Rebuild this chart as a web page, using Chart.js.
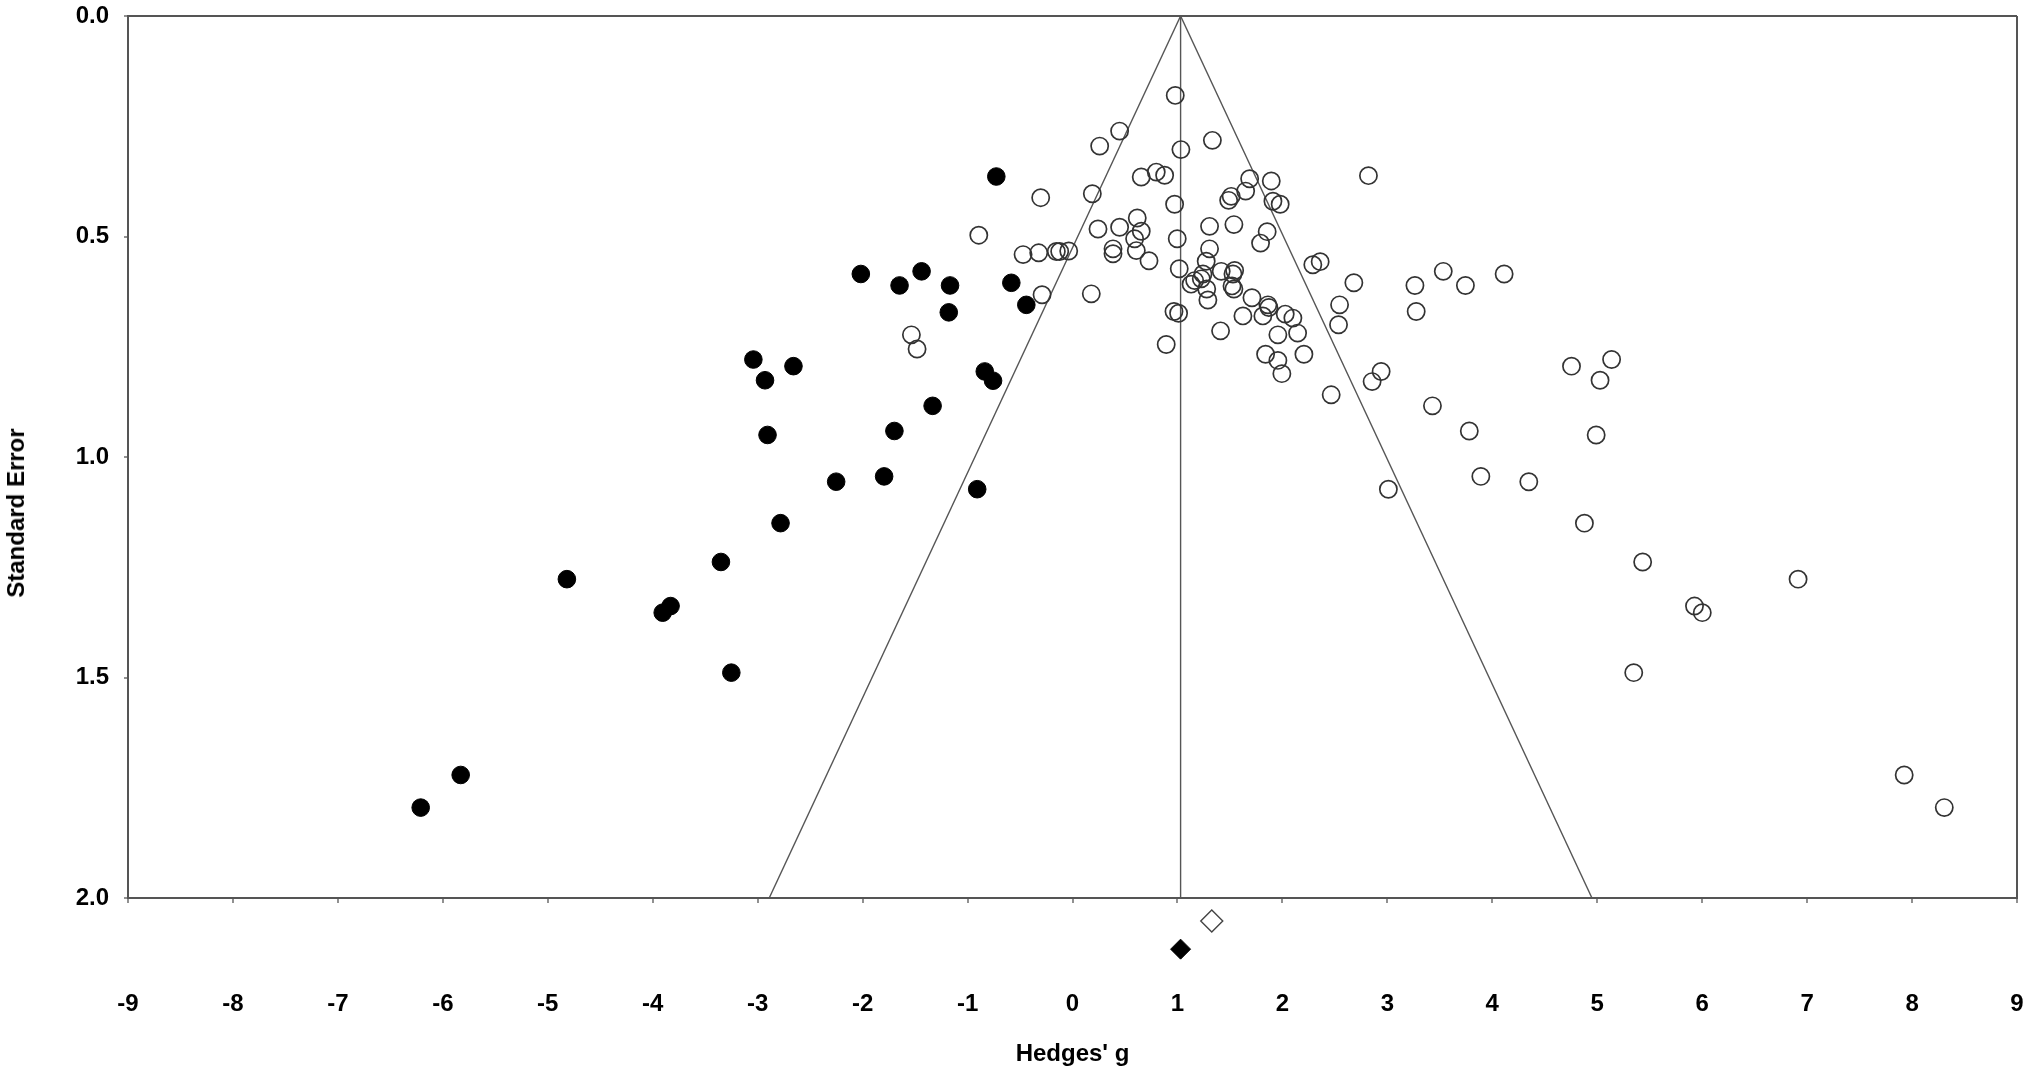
<!DOCTYPE html>
<html>
<head>
<meta charset="utf-8">
<script src="https://cdn.jsdelivr.net/npm/chart.js@4.4.1/dist/chart.umd.min.js"></script>
<style>
  html, body { margin: 0; padding: 0; background: #fff; overflow: hidden; }
  .wrap { position: relative; width: 2031px; height: 1073px; }
  .y-title {
    position: absolute;
    left: 16px;
    top: 513px;
    transform: translate(-50%, -50%) rotate(-90deg);
    font: bold 24px "Liberation Sans", Arial, sans-serif;
    color: #000;
    white-space: nowrap;
  }
</style>
</head>
<body>
<div class="wrap">
  <canvas id="funnel"></canvas>
  <div class="y-title">Standard Error</div>
</div>
<script>
// observed studies (open circles)
const observedG = [
  0.979, 0.449, 0.259, 1.333, 1.033, 0.655, 0.798, 0.878, -0.303, 0.189,
  0.973, -0.893, 0.243, 0.449, 0.617, 0.655, 0.592, 0.608, 0.729, 0.386,
  0.386, 0.998, -0.471, -0.322, -0.154, -0.122, -0.036, 1.017, 1.130, 1.164,
  1.243, 1.227, -0.290, 0.179, 0.967, 1.011, 0.893, -1.535, -1.481, 1.688,
  1.894, 1.650, 1.512, 1.488, 1.910, 1.979, 1.306, 1.538, 1.855, 1.792,
  1.306, 1.274, 2.290, 2.360, 1.417, 1.545, 1.529, 2.681, 1.279, 1.290,
  1.538, 1.520, 1.710, 1.862, 1.871, 2.027, 2.100, 1.624, 1.814, 2.545,
  2.535, 1.411, 1.957, 2.145, 2.820, 1.840, 2.205, 1.957, 1.995, 2.465,
  2.855, 2.941, 3.430, 3.010, 3.263, 3.275, 3.533, 3.744, 4.113, 4.755,
  5.137, 5.027, 3.781, 4.990, 3.891, 4.348, 4.878, 5.433, 6.914, 5.927,
  6.001, 5.348, 7.925, 8.307
];
const observedSE = [
  0.180, 0.261, 0.295, 0.282, 0.303, 0.365, 0.354, 0.361, 0.412, 0.403,
  0.427, 0.497, 0.483, 0.479, 0.458, 0.488, 0.505, 0.532, 0.555, 0.528,
  0.539, 0.505, 0.541, 0.537, 0.534, 0.534, 0.533, 0.573, 0.608, 0.600,
  0.585, 0.596, 0.632, 0.630, 0.670, 0.674, 0.745, 0.723, 0.755, 0.369,
  0.374, 0.397, 0.409, 0.418, 0.420, 0.427, 0.477, 0.473, 0.489, 0.515,
  0.528, 0.556, 0.564, 0.557, 0.579, 0.577, 0.585, 0.605, 0.619, 0.644,
  0.619, 0.612, 0.639, 0.655, 0.661, 0.676, 0.685, 0.680, 0.680, 0.655,
  0.700, 0.714, 0.723, 0.719, 0.362, 0.767, 0.767, 0.781, 0.811, 0.859,
  0.829, 0.806, 0.884, 1.073, 0.611, 0.670, 0.579, 0.611, 0.585, 0.794,
  0.779, 0.826, 0.941, 0.950, 1.044, 1.056, 1.150, 1.238, 1.277, 1.338,
  1.353, 1.489, 1.721, 1.795
];

// imputed studies (filled circles)
const imputedG = [
  -0.726, -2.017, -1.648, -1.438, -1.167, -1.179, -0.583, -0.440, -3.041, -2.930,
  -2.659, -0.836, -0.757, -1.333, -1.697, -2.906, -2.252, -1.795, -0.908, -2.782,
  -4.818, -3.350, -3.830, -3.905, -3.251, -5.830, -6.211
];
const imputedSE = [
  0.364, 0.585, 0.611, 0.579, 0.611, 0.672, 0.605, 0.655, 0.779, 0.826,
  0.794, 0.806, 0.827, 0.884, 0.941, 0.950, 1.056, 1.044, 1.073, 1.150,
  1.277, 1.238, 1.338, 1.353, 1.489, 1.721, 1.795
];

// summary diamonds (drawn under the axis): observed and adjusted estimate
const observedMean = [{ x: 1.327, y: 2.052 }];
const adjustedMean = [{ x: 1.03, y: 2.116 }];

// funnel (pooled estimate and 95% limits)
const funnelCentre = [{ x: 1.03, y: 0 }, { x: 1.03, y: 2 }];
const funnelLeft = [{ x: 1.03, y: 0 }, { x: -2.89, y: 2 }];
const funnelRight = [{ x: 1.03, y: 0 }, { x: 4.95, y: 2 }];

const xTicks = [-9, -8, -7, -6, -5, -4, -3, -2, -1, 0, 1, 2, 3, 4, 5, 6, 7, 8, 9];
const yTicks = [0, 0.5, 1, 1.5, 2];

const toPoints = (xs, ys) => xs.map((x, i) => ({ x, y: ys[i] }));

const LINE = '#555';
const NONE = 'rgba(0,0,0,0)';
const FONT = { family: '"Liberation Sans", Arial, sans-serif', size: 24, weight: 'bold' };

const lineSet = data => ({
  type: 'line',
  data,
  borderColor: LINE,
  borderWidth: 1.4,
  pointRadius: 0,
  fill: false,
  tension: 0,
});

// the summary diamonds sit below the plot frame, outside the chart area;
// chart.js skips points outside the area, so draw those elements here
const outsidePoints = {
  id: 'outsidePoints',
  afterDatasetsDraw(chart) {
    const area = { left: 0, top: 0, right: chart.width, bottom: chart.height };
    chart.data.datasets.forEach((ds, i) => {
      if (!ds.belowFrame) return;
      chart.getDatasetMeta(i).data.forEach(el => el.draw(chart.ctx, area));
    });
  },
};

const chart = new Chart(document.getElementById('funnel'), {
  type: 'scatter',
  data: {
    datasets: [
      {
        data: toPoints(imputedG, imputedSE),
        pointStyle: 'circle',
        pointRadius: 8.8,
        backgroundColor: '#000',
        borderColor: '#000',
        borderWidth: 1,
      },
      {
        data: toPoints(observedG, observedSE),
        pointStyle: 'circle',
        pointRadius: 8.6,
        backgroundColor: NONE,
        borderColor: '#333',
        borderWidth: 1.7,
      },
      {
        data: adjustedMean,
        belowFrame: true,
        pointStyle: 'rectRot',
        pointRadius: 10,
        backgroundColor: '#000',
        borderColor: '#000',
        borderWidth: 1,
        clip: false,
      },
      {
        data: observedMean,
        belowFrame: true,
        pointStyle: 'rectRot',
        pointRadius: 11,
        backgroundColor: '#fff',
        borderColor: '#444',
        borderWidth: 1.4,
        clip: false,
      },
      lineSet(funnelCentre),
      lineSet(funnelLeft),
      lineSet(funnelRight),
    ],
  },
  plugins: [outsidePoints],
  options: {
    responsive: true,
    maintainAspectRatio: false,
    devicePixelRatio: 1,
    animation: false,
    layout: { padding: { top: 16, right: 14, left: 0, bottom: 0 } },
    plugins: {
      legend: { display: false },
      tooltip: { enabled: false },
    },
    scales: {
      x: {
        type: 'linear',
        position: 'bottom',
        min: -9,
        max: 9,
        afterBuildTicks(scale) {
          scale.ticks = xTicks.map(value => ({ value }));
        },
        afterFit(scale) {
          scale.height = 175;
          scale.paddingLeft = 0;
          scale.paddingRight = 0;
        },
        ticks: {
          color: '#000',
          font: FONT,
          padding: 87,
          maxRotation: 0,
          autoSkip: false,
        },
        grid: {
          display: true,
          drawOnChartArea: true,
          drawTicks: true,
          tickLength: 5,
          // only the right frame edge is drawn across the plot
          color: ctx => (ctx.tick && ctx.tick.value === 9 ? LINE : NONE),
          lineWidth: 2,
          tickColor: LINE,
          tickWidth: 1.3,
        },
        border: { display: true, color: LINE, width: 2 },
        title: {
          display: true,
          text: "Hedges' g",
          color: '#000',
          font: { family: FONT.family, size: 24, weight: 'bold' },
          padding: { top: 0, bottom: 4 },
        },
      },
      y: {
        type: 'linear',
        position: 'left',
        reverse: true,
        min: 0,
        max: 2,
        afterBuildTicks(scale) {
          scale.ticks = yTicks.map(value => ({ value }));
        },
        afterFit(scale) {
          scale.width = 128;
          scale.paddingTop = 0;
          scale.paddingBottom = 0;
        },
        ticks: {
          color: '#000',
          font: FONT,
          padding: 15,
          callback(value) {
            return Number(value).toFixed(1);
          },
        },
        grid: {
          display: true,
          drawOnChartArea: true,
          drawTicks: true,
          tickLength: 4,
          // only the top frame edge is drawn across the plot
          color: ctx => (ctx.tick && ctx.tick.value === 0 ? LINE : NONE),
          lineWidth: 2,
          tickColor: LINE,
          tickWidth: 1.3,
        },
        border: { display: true, color: LINE, width: 2 },
      },
    },
  },
});
</script>
</body>
</html>
